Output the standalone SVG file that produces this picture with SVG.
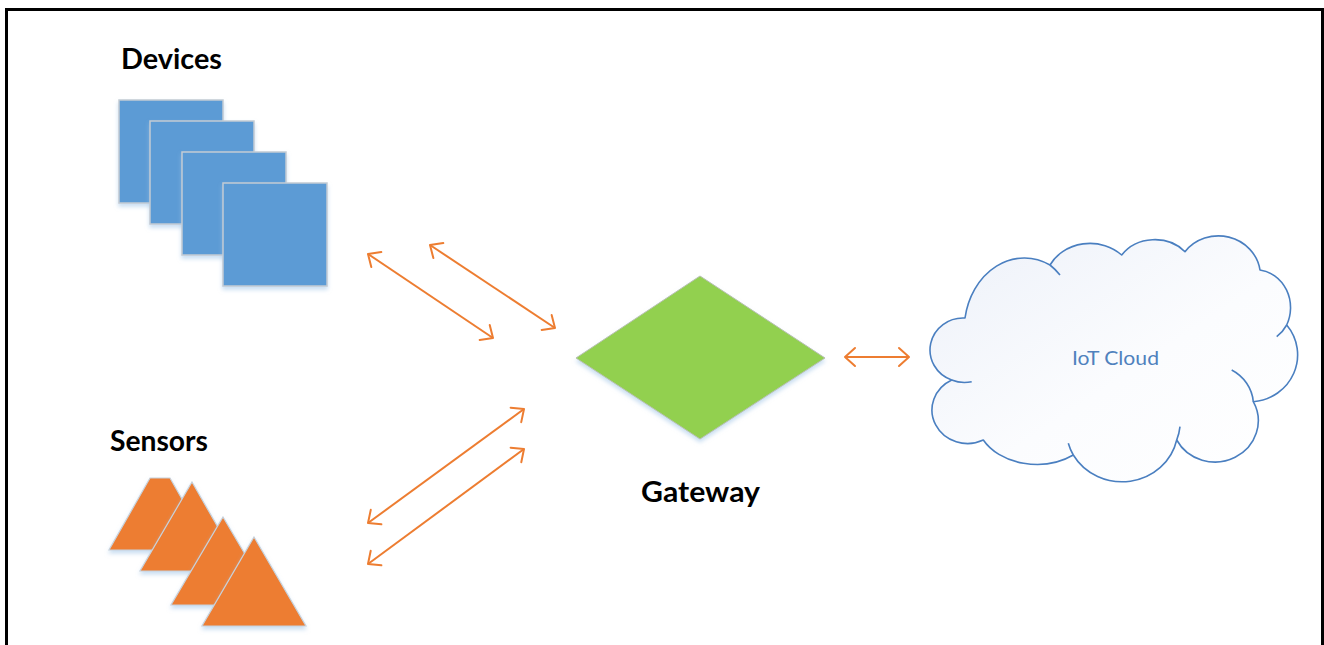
<svg xmlns="http://www.w3.org/2000/svg" width="1324" height="645" viewBox="0 0 1324 645">
  <style>
    .lbl { font-family: "Lato", "Liberation Sans", sans-serif; font-weight: bold; font-size: 28px; fill: #000000; }
    .cloudtxt { font-family: "Lato", "Open Sans", "Liberation Sans", sans-serif; font-size: 20px; fill: #4F81BD; }
    .dev { fill: #5B9BD5; stroke: #C3CBD3; stroke-width: 1.5; filter: url(#sh); }
    .sen { fill: #ED7D31; stroke: #C8D2DC; stroke-width: 1.2; filter: url(#sh); }
    .gw { fill: #92D050; stroke: #B8C0B0; stroke-width: 1; filter: url(#sh); }
    .link { stroke: #ED7D31; stroke-width: 2; fill: none; marker-start: url(#ah); marker-end: url(#ah); }
    .cl { stroke: #4A7FC0; stroke-width: 1.6; stroke-linejoin: round; }
  </style>
  <defs>
    <filter id="sh" x="-20%" y="-20%" width="140%" height="150%">
      <feDropShadow dx="0" dy="3" stdDeviation="2" flood-color="#9DC3E6" flood-opacity="0.55"/>
    </filter>
    <linearGradient id="cg" x1="0" y1="0" x2="1" y2="1">
      <stop offset="0" stop-color="#EDF1F9"/>
      <stop offset="0.55" stop-color="#FBFCFE"/>
      <stop offset="1" stop-color="#FFFFFF"/>
    </linearGradient>
    <marker id="ah" markerUnits="userSpaceOnUse" viewBox="-2 -2 14 22" refX="10" refY="9" markerWidth="14" markerHeight="22" orient="auto-start-reverse">
      <path d="M0,0 L10,9 L0,18" fill="none" stroke="#ED7D31" stroke-width="2" stroke-linecap="round" stroke-linejoin="round"/>
    </marker>
  </defs>

  <rect x="6.5" y="9.5" width="1316" height="700" fill="#FFFFFF" stroke="#000000" stroke-width="3"/>

  <g id="devices">
    <text class="lbl" x="121" y="69" textLength="101" lengthAdjust="spacingAndGlyphs">Devices</text>
    <rect class="dev" x="119" y="100" width="104" height="103"/>
    <rect class="dev" x="150" y="121" width="104" height="103"/>
    <rect class="dev" x="182" y="152" width="104" height="103"/>
    <rect class="dev" x="223" y="183" width="104" height="103"/>
  </g>

  <g id="sensors">
    <text class="lbl" x="110" y="451" textLength="98" lengthAdjust="spacingAndGlyphs">Sensors</text>
    <polygon class="sen" points="150,478 170,478 211,550 109,550"/>
    <polygon class="sen" points="192,482 243,571 140,571"/>
    <polygon class="sen" points="223,517 275,605 171,605"/>
    <polygon class="sen" points="254,537 306,626 202,626"/>
  </g>

  <g id="gateway">
    <polygon class="gw" points="700,276 825,358 700,439 576,358"/>
    <text class="lbl" x="641" y="502" textLength="119" lengthAdjust="spacingAndGlyphs">Gateway</text>
  </g>

  <g id="iot-cloud">
    <path class="cl" fill="url(#cg)" d="M965,318 A60,72 0 0 1 1050,265 A45,40 0 0 1 1121.7,255 A40,35 0 0 1 1185,251.7 A42,40 0 0 1 1260,270 A35,38 0 0 1 1286.7,325 A48,47 0 0 1 1253.3,401.7 A42,40 0 0 1 1176.7,440 A56,53 0 0 1 1073.3,455 A60,45 0 0 1 983.3,440 A35,33 0 0 1 951.7,380 A33,32 0 0 1 965,318 Z"/>
    <path class="cl" fill="none" d="M951.7,380 A33,32 0 0 0 971.7,381.7 M1050,265 A60,72 0 0 1 1060,275 M1286.7,325 A35,38 0 0 1 1276.7,336.7 M1231.7,370 A42,40 0 0 1 1253.3,401.7 M1180,426.7 A56,53 0 0 1 1176.7,440 M1073.3,455 A56,53 0 0 1 1068.3,443.3"/>
    <text class="cloudtxt" x="1072" y="365" textLength="87" lengthAdjust="spacingAndGlyphs">IoT Cloud</text>
  </g>

  <g id="connectors">
    <line class="link" x1="368" y1="254" x2="493" y2="338"/>
    <line class="link" x1="430" y1="245" x2="555" y2="328"/>
    <line class="link" x1="524" y1="409" x2="368" y2="523"/>
    <line class="link" x1="524" y1="449" x2="368" y2="564"/>
    <line class="link" x1="845" y1="357" x2="909" y2="357"/>
  </g>
</svg>
